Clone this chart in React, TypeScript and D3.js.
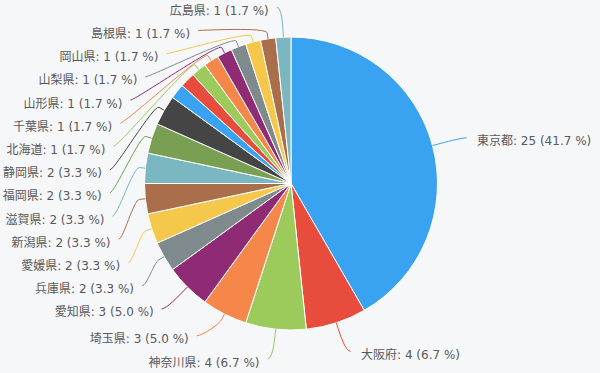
import React from 'react';
import * as d3 from 'd3';

// ---- data ----
const prefectures = ['東京都', '大阪府', '神奈川県', '埼玉県', '愛知県', '兵庫県', '愛媛県', '新潟県', '滋賀県', '福岡県', '静岡県', '', '', '北海道', '千葉県', '山形県', '山梨県', '岡山県', '島根県', '広島県'];
const counts = [25, 4, 4, 3, 3, 2, 2, 2, 2, 2, 2, 1, 1, 1, 1, 1, 1, 1, 1, 1];
const palette = ['#39a3f2', '#e84c3d', '#9ccb5c', '#f5874b', '#8e2b74', '#7f8a8c', '#f5c84c', '#a96f4a', '#7bb7c0', '#789f52', '#454545'];

const W = 600;
const H = 373;
const cx = 291;
const cy = 183.5;
const R = 146.5;
const DIST = 30;
const L = R + DIST;
const PITCH = 23.2;
const YMIN = 6;
const YMAX = 359;

type Lab = {
  i: number; dx: number; dy: number; sign: number; natY: number; y: number; x: number;
};

export default function App() {
  const total = d3.sum(counts);
  const pie = d3.pie<number>().sort(null).value((d) => d)(counts);
  const arc = d3.arc<d3.PieArcDatum<number>>().innerRadius(0).outerRadius(R);
  const color = (i: number) => palette[i % palette.length];

  const labels: Lab[] = pie
    .map((p, i) => {
      const mid = (p.startAngle + p.endAngle) / 2;
      const dx = Math.sin(mid);
      const dy = -Math.cos(mid);
      const sign = mid > Math.PI ? -1 : 1;
      return { i, dx, dy, sign, natY: cy + L * dy, y: 0, x: 0 };
    })
    .filter((l) => prefectures[l.i] !== '');

  const getX = (y: number, sign: number) => {
    const t = Math.max(-1, Math.min(1, (y - cy) / L));
    return cx + sign * (Math.cos(Math.asin(t)) * L + 5);
  };

  [1, -1].forEach((s) => {
    const side = labels.filter((l) => l.sign === s).sort((a, b) => a.natY - b.natY);
    side.forEach((l, k) => {
      const nat = Math.max(YMIN, Math.min(YMAX, l.natY));
      l.y = k === 0 ? nat : Math.max(nat, side[k - 1].y + PITCH);
    });
    for (let k = side.length - 1; k >= 0; k--) {
      const lim = k === side.length - 1 ? YMAX : side[k + 1].y - PITCH;
      if (side[k].y > lim) side[k].y = lim;
    }
    side.forEach((l) => {
      const atBound = l.y < YMIN + 2 || l.y > YMAX - 2;
      l.x = getX(atBound ? l.natY : l.y, s);
    });
  });

  return (
    <svg width={W} height={H} style={{ position: 'absolute', left: 0, top: 0 }}
      fontFamily="'DejaVu Sans', 'Noto Sans CJK JP', sans-serif">
      <rect x={0} y={0} width={W} height={H} fill="#f5f7f9" />
      <g transform={`translate(${cx},${cy})`}>
        {pie.map((p, i) => (
          <path key={i} d={arc(p) || ''} fill={color(i)} stroke="#ffffff" strokeWidth={1} strokeLinejoin="round" />
        ))}
      </g>
      {labels.map((l) => {
        const tx = cx + R * l.dx, ty = cy + R * l.dy;
        const bx = cx + (R + 6) * l.dx, by = cy + (R + 6) * l.dy;
        const c2x = cx + (R + 12) * l.dx, c2y = cy + (R + 12) * l.dy;
        const d = `M${l.x},${l.y} C${l.x - l.sign * 5},${l.y} ${c2x},${c2y} ${bx},${by} L${tx},${ty}`;
        const v = counts[l.i];
        const text = `${prefectures[l.i]}: ${v} (${((v / total) * 100).toFixed(1)} %)`;
        return (
          <g key={l.i}>
            <path d={d} fill="none" stroke={color(l.i)} strokeWidth={1} />
            <text x={l.sign > 0 ? l.x + 10.5 : l.x - 8} y={l.y + 3.5} dominantBaseline="central"
              textAnchor={l.sign > 0 ? 'start' : 'end'} fontSize={12} fill="#595959">{text}</text>
          </g>
        );
      })}
    </svg>
  );
}
